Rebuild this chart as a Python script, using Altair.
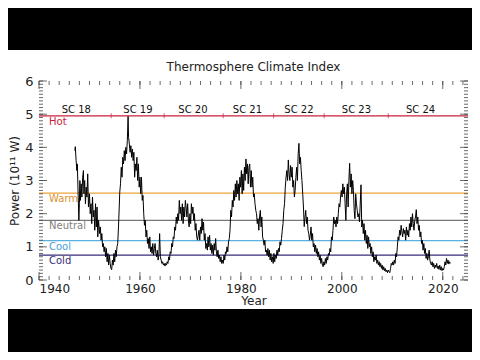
import altair as alt
import pandas as pd

# ---------------- data ----------------
chart_title = "Thermosphere Climate Index"
x_title = "Year"
y_title = "Power (10\u00b9\u00b9 W)"

level_names = ["Hot", "Warm", "Neutral", "Cool", "Cold"]
level_values = [4.95, 2.62, 1.80, 1.19, 0.75]
level_line_colors = ["#c8203c", "#eca33a", "#777777", "#5ab0e0", "#3a2d78"]
level_text_colors = ["#c8203c", "#d9922e", "#808080", "#4aa0d8", "#3a2d78"]

cycle_names = ["SC 18", "SC 19", "SC 20", "SC 21", "SC 22", "SC 23", "SC 24"]
cycle_label_years = [1947.4, 1959.6, 1970.5, 1981.3, 1991.5, 2002.9, 2015.6]
cycle_boundaries = [1954.3, 1964.8, 1976.5, 1986.5, 1996.5, 2009.2]

x_tick_labels = [1940, 1960, 1980, 2000, 2020]
y_tick_labels = [0, 1, 2, 3, 4, 5, 6]

sc18 = [(1947.1, 3.9), (1947.2, 4.02), (1947.35, 3.6), (1947.5, 3.3), (1947.6, 3.5), (1947.75, 2.6),
        (1947.9, 1.8), (1948.0, 2.3), (1948.1, 3.0), (1948.2, 2.4), (1948.35, 2.9), (1948.5, 2.5),
        (1948.65, 3.1), (1948.8, 3.3), (1948.9, 2.6), (1949.05, 3.0), (1949.2, 2.3), (1949.35, 2.8),
        (1949.5, 2.5), (1949.65, 3.2), (1949.8, 2.2), (1950.0, 2.6), (1950.15, 2.0), (1950.3, 2.3),
        (1950.45, 1.7), (1950.6, 2.5), (1950.75, 1.9), (1950.9, 2.1), (1951.05, 1.5), (1951.2, 2.3),
        (1951.35, 1.6), (1951.5, 2.2), (1951.65, 1.3), (1951.8, 1.8), (1952.0, 1.4), (1952.15, 1.6),
        (1952.3, 1.2), (1952.45, 1.4), (1952.6, 1.0), (1952.75, 1.1), (1952.9, 0.85), (1953.05, 1.0),
        (1953.2, 0.7), (1953.35, 0.95), (1953.5, 0.55), (1953.65, 0.8), (1953.8, 0.45), (1953.95, 0.75),
        (1954.1, 0.5), (1954.25, 0.35), (1954.4, 0.31), (1954.55, 0.6), (1954.7, 0.45), (1954.85, 0.8),
        (1955.0, 0.55), (1955.15, 0.9), (1955.3, 0.7), (1955.45, 1.0)]
sc19 = [(1955.6, 1.1), (1955.75, 1.6), (1955.9, 2.2), (1956.0, 2.65), (1956.15, 2.9), (1956.3, 3.4),
        (1956.45, 3.1), (1956.6, 3.7), (1956.75, 3.5), (1956.9, 3.9), (1957.05, 3.6), (1957.2, 4.0),
        (1957.35, 3.8), (1957.5, 4.2), (1957.65, 4.93), (1957.75, 4.3), (1957.9, 4.1), (1958.05, 3.85),
        (1958.2, 4.05), (1958.35, 3.7), (1958.5, 3.95), (1958.65, 3.6), (1958.8, 3.85), (1958.95, 3.1),
        (1959.1, 3.5), (1959.25, 3.3), (1959.4, 3.7), (1959.55, 3.0), (1959.7, 3.5), (1959.85, 2.8),
        (1960.0, 3.1), (1960.15, 2.6), (1960.3, 3.1), (1960.45, 2.4), (1960.6, 2.55), (1960.75, 2.0),
        (1960.9, 1.65), (1961.05, 1.8), (1961.2, 1.3), (1961.35, 1.5), (1961.5, 1.1), (1961.65, 1.25),
        (1961.8, 0.95), (1961.95, 1.3), (1962.1, 0.85), (1962.25, 1.0), (1962.4, 0.8), (1962.55, 1.1),
        (1962.7, 0.75), (1962.85, 0.95), (1963.0, 1.1), (1963.15, 0.8), (1963.3, 0.7), (1963.45, 0.9),
        (1963.6, 0.6), (1963.75, 0.75), (1963.9, 1.4), (1964.05, 0.7), (1964.2, 0.6), (1964.35, 0.5),
        (1964.5, 0.55), (1964.65, 0.45), (1964.8, 0.5), (1964.95, 0.42), (1965.1, 0.5), (1965.25, 0.45),
        (1965.4, 0.55), (1965.55, 0.5), (1965.7, 0.7), (1965.85, 0.6), (1966.0, 0.85), (1966.15, 0.8),
        (1966.3, 1.1), (1966.45, 1.0)]
sc20 = [(1966.6, 1.3), (1966.75, 1.25), (1966.9, 1.6), (1967.05, 1.5), (1967.2, 1.9), (1967.35, 1.7),
        (1967.5, 2.0), (1967.65, 1.8), (1967.8, 2.4), (1967.95, 2.0), (1968.1, 2.2), (1968.25, 1.8),
        (1968.4, 2.3), (1968.55, 1.7), (1968.7, 2.2), (1968.85, 1.9), (1969.0, 2.4), (1969.15, 2.2),
        (1969.3, 1.9), (1969.45, 2.3), (1969.6, 1.8), (1969.75, 1.6), (1969.9, 2.0), (1970.05, 1.7),
        (1970.2, 2.3), (1970.35, 2.0), (1970.5, 2.2), (1970.65, 1.8), (1970.8, 2.0), (1970.95, 1.5),
        (1971.1, 1.7), (1971.25, 1.3), (1971.4, 1.2), (1971.55, 1.35), (1971.7, 1.5), (1971.85, 1.2),
        (1972.0, 1.6), (1972.15, 1.4), (1972.3, 1.85), (1972.45, 1.5), (1972.6, 1.75), (1972.75, 1.2),
        (1972.9, 1.4), (1973.05, 0.95), (1973.2, 1.1), (1973.35, 0.9), (1973.5, 1.3), (1973.65, 1.0),
        (1973.8, 1.35), (1973.95, 0.9), (1974.1, 1.1), (1974.25, 0.8), (1974.4, 1.05), (1974.55, 0.75),
        (1974.7, 1.1), (1974.85, 0.9), (1975.0, 1.25), (1975.15, 0.85), (1975.3, 0.7), (1975.45, 0.9),
        (1975.6, 0.65), (1975.75, 0.75), (1975.9, 0.55), (1976.05, 0.7), (1976.2, 0.5), (1976.35, 0.6),
        (1976.5, 0.5), (1976.65, 0.75), (1976.8, 0.6), (1976.95, 0.85), (1977.1, 0.8), (1977.25, 1.0),
        (1977.4, 0.85), (1977.55, 1.15), (1977.7, 1.25)]
sc21 = [(1977.85, 1.5), (1978.0, 2.1), (1978.15, 1.9), (1978.3, 2.4), (1978.45, 2.2), (1978.6, 2.7),
        (1978.75, 2.4), (1978.9, 2.9), (1979.05, 2.5), (1979.2, 3.0), (1979.35, 2.6), (1979.5, 2.9),
        (1979.65, 2.4), (1979.8, 3.1), (1979.95, 2.8), (1980.1, 3.3), (1980.25, 2.6), (1980.4, 3.2),
        (1980.55, 2.7), (1980.7, 3.4), (1980.85, 3.0), (1981.0, 3.65), (1981.15, 3.2), (1981.3, 3.5),
        (1981.45, 2.9), (1981.6, 3.4), (1981.75, 3.5), (1981.9, 2.8), (1982.05, 3.3), (1982.2, 2.8),
        (1982.35, 3.1), (1982.5, 2.5), (1982.65, 2.6), (1982.8, 2.3), (1982.95, 2.1), (1983.1, 2.0),
        (1983.25, 1.7), (1983.4, 1.85), (1983.55, 1.5), (1983.7, 1.9), (1983.85, 2.1), (1984.0, 1.6),
        (1984.15, 1.9), (1984.3, 1.3), (1984.45, 1.2), (1984.6, 1.05), (1984.75, 1.2), (1984.9, 0.85),
        (1985.05, 0.9), (1985.2, 0.75), (1985.35, 0.95), (1985.5, 0.7), (1985.65, 0.9), (1985.8, 0.6),
        (1985.95, 0.8), (1986.1, 0.55), (1986.25, 0.7), (1986.4, 0.5), (1986.55, 0.8), (1986.7, 0.55),
        (1986.85, 0.75), (1987.0, 0.65), (1987.15, 0.9), (1987.3, 0.75), (1987.45, 0.95), (1987.6, 0.85),
        (1987.75, 1.15), (1987.9, 1.05)]
sc22 = [(1988.05, 1.25), (1988.2, 1.5), (1988.35, 1.7), (1988.5, 2.1), (1988.65, 2.3), (1988.8, 2.8),
        (1988.95, 3.1), (1989.1, 3.3), (1989.25, 3.0), (1989.4, 3.62), (1989.55, 3.2), (1989.7, 3.0),
        (1989.85, 3.45), (1990.0, 3.1), (1990.15, 3.4), (1990.3, 2.8), (1990.45, 3.0), (1990.6, 2.5),
        (1990.75, 2.7), (1990.9, 3.1), (1991.05, 3.4), (1991.2, 3.0), (1991.35, 3.8), (1991.5, 4.12),
        (1991.65, 3.5), (1991.8, 3.7), (1991.95, 3.3), (1992.1, 3.0), (1992.25, 2.6), (1992.4, 2.2),
        (1992.55, 1.61), (1992.7, 1.9), (1992.85, 2.1), (1993.0, 1.7), (1993.15, 1.9), (1993.3, 1.5),
        (1993.45, 1.4), (1993.6, 1.2), (1993.75, 1.35), (1993.9, 1.6), (1994.05, 1.2), (1994.2, 1.4),
        (1994.35, 1.0), (1994.5, 1.1), (1994.65, 0.85), (1994.8, 1.05), (1994.95, 0.8), (1995.1, 0.95),
        (1995.25, 0.7), (1995.4, 0.85), (1995.55, 0.6), (1995.7, 0.75), (1995.85, 0.5), (1996.0, 0.65),
        (1996.15, 0.45), (1996.3, 0.4), (1996.45, 0.55), (1996.6, 0.45), (1996.75, 0.65), (1996.9, 0.5),
        (1997.05, 0.7), (1997.2, 0.6), (1997.35, 0.8), (1997.5, 0.75), (1997.65, 0.95), (1997.8, 0.85)]
sc23 = [(1997.95, 1.3), (1998.1, 1.2), (1998.25, 1.5), (1998.4, 1.9), (1998.55, 1.7), (1998.7, 1.8),
        (1998.85, 1.6), (1999.0, 1.9), (1999.15, 1.7), (1999.3, 2.0), (1999.45, 2.3), (1999.6, 2.2),
        (1999.75, 2.5), (1999.9, 2.7), (2000.05, 2.5), (2000.2, 2.9), (2000.35, 2.6), (2000.5, 2.8),
        (2000.65, 2.3), (2000.8, 1.8), (2000.95, 2.6), (2001.1, 2.9), (2001.25, 2.2), (2001.4, 3.0),
        (2001.55, 3.52), (2001.7, 2.8), (2001.85, 3.2), (2002.0, 2.6), (2002.15, 3.0), (2002.3, 2.7),
        (2002.45, 2.1), (2002.6, 1.85), (2002.75, 2.6), (2002.9, 2.3), (2003.05, 2.1), (2003.2, 1.9),
        (2003.35, 2.0), (2003.5, 1.75), (2003.8, 2.87), (2003.95, 1.6), (2004.1, 1.8), (2004.25, 1.4),
        (2004.4, 1.7), (2004.55, 1.2), (2004.7, 1.5), (2004.85, 1.1), (2005.0, 1.35), (2005.15, 0.95),
        (2005.3, 1.3), (2005.45, 1.0), (2005.6, 1.1), (2005.75, 0.8), (2005.9, 1.0), (2006.05, 0.7),
        (2006.2, 0.85), (2006.35, 0.55), (2006.5, 0.7), (2006.65, 0.6), (2006.8, 0.75), (2006.95, 0.5),
        (2007.1, 0.6), (2007.25, 0.45), (2007.4, 0.55), (2007.55, 0.4), (2007.7, 0.5), (2007.85, 0.35),
        (2008.0, 0.45), (2008.15, 0.3), (2008.3, 0.4), (2008.45, 0.28), (2008.6, 0.35), (2008.75, 0.25),
        (2008.9, 0.3), (2009.05, 0.22), (2009.2, 0.3), (2009.35, 0.25), (2009.5, 0.22), (2009.65, 0.35)]
sc24 = [(2009.8, 0.5), (2009.95, 0.45), (2010.1, 0.55), (2010.25, 0.45), (2010.4, 0.6), (2010.55, 0.5),
        (2010.7, 0.8), (2010.85, 0.7), (2011.0, 1.0), (2011.15, 1.3), (2011.3, 1.2), (2011.45, 1.5),
        (2011.6, 1.35), (2011.75, 1.65), (2011.9, 1.45), (2012.05, 1.3), (2012.2, 1.55), (2012.35, 1.4),
        (2012.5, 1.5), (2012.65, 1.2), (2012.8, 1.6), (2012.95, 1.35), (2013.1, 1.5), (2013.25, 1.3),
        (2013.4, 1.7), (2013.55, 1.5), (2013.7, 1.9), (2013.85, 1.6), (2014.0, 2.0), (2014.15, 1.7),
        (2014.3, 1.5), (2014.45, 1.8), (2014.6, 1.9), (2014.75, 2.12), (2014.9, 1.7), (2015.05, 1.9),
        (2015.2, 1.5), (2015.35, 1.65), (2015.5, 1.3), (2015.65, 1.45), (2015.8, 1.1), (2015.95, 1.2),
        (2016.1, 0.9), (2016.25, 1.1), (2016.4, 0.8), (2016.55, 0.95), (2016.7, 0.65), (2016.85, 0.8),
        (2017.0, 0.6), (2017.15, 0.7), (2017.3, 0.9), (2017.45, 0.6), (2017.6, 0.5), (2017.75, 0.45),
        (2017.9, 0.55), (2018.05, 0.4), (2018.2, 0.5), (2018.35, 0.35), (2018.5, 0.45), (2018.65, 0.38),
        (2018.8, 0.5), (2018.95, 0.35), (2019.1, 0.42), (2019.25, 0.32), (2019.4, 0.45), (2019.55, 0.3),
        (2019.7, 0.4), (2019.85, 0.28), (2020.0, 0.35), (2020.15, 0.3), (2020.3, 0.4), (2020.45, 0.55),
        (2020.6, 0.45), (2020.75, 0.65), (2020.9, 0.5), (2021.05, 0.6), (2021.2, 0.48), (2021.35, 0.55),
        (2021.5, 0.5)]

# ---------------- frames ----------------
series = sc18 + sc19 + sc20 + sc21 + sc22 + sc23 + sc24
tci = pd.DataFrame(series, columns=["year", "power"])
levels = pd.DataFrame({"name": level_names, "value": level_values,
                       "line": level_line_colors, "text": level_text_colors})
cycles = pd.DataFrame({"name": cycle_names, "year": cycle_label_years})
bounds = pd.DataFrame({"year": cycle_boundaries})

x_minor = pd.DataFrame({"year": list(range(1940, 2026, 2))})
x_major = pd.DataFrame({"year": x_tick_labels})
y_minor = pd.DataFrame({"v": [i / 10 for i in range(0, 61)]})
y_major = pd.DataFrame({"v": y_tick_labels})

W, H = 429, 199
FONT = "DejaVu Sans"

xscale = alt.Scale(domain=[1940, 2025], nice=False, zero=False)
yscale = alt.Scale(domain=[0, 6], nice=False)

x_axis = alt.Axis(values=x_tick_labels, format="d", ticks=False, domain=False, grid=False,
                  labelFontSize=12, labelPadding=3, labelColor="#222", zindex=2,
                  labelOverlap=False,
                  title=x_title, titleFontSize=12, titleFontWeight="normal",
                  titlePadding=1, titleColor="#222", labelFont=FONT, titleFont=FONT)
y_axis = alt.Axis(values=y_tick_labels, ticks=False, domain=False, grid=False,
                  labelFontSize=13, labelPadding=6, labelColor="#222", zindex=2,
                  labelOverlap=False,
                  title=y_title, titleFontSize=12, titleFontWeight="normal",
                  titlePadding=3, titleColor="#222", labelFont=FONT, titleFont=FONT)


def X(field):
    return alt.X(field, scale=xscale, axis=x_axis)


def Y(field):
    return alt.Y(field, scale=yscale, axis=y_axis)


backdrop = alt.Chart(alt.Data(values=[{}])).mark_rect(color="white").encode(
    x=alt.value(-39), x2=alt.value(441), y=alt.value(-31), y2=alt.value(228)
)
title_mark = alt.Chart(alt.Data(values=[{"t": chart_title}])).mark_text(
    fontSize=12, font=FONT, color="#222", baseline="alphabetic", align="center"
).encode(x=alt.value(W / 2), y=alt.value(-10), text="t:N")

level_rules = alt.Chart(levels).mark_rule(strokeWidth=1.3).encode(
    y=Y("value:Q"),
    color=alt.Color("line:N", scale=None),
)
level_labels = alt.Chart(levels).mark_text(align="left", baseline="top", dy=1, fontSize=10, font=FONT).encode(
    x=alt.value(10),
    y=Y("value:Q"),
    color=alt.Color("text:N", scale=None),
    text="name:N",
)

cycle_text = alt.Chart(cycles).mark_text(baseline="alphabetic", dy=-3, fontSize=10, font=FONT, color="#111").encode(
    x=X("year:Q"),
    y=alt.datum(level_values[0], scale=yscale, axis=y_axis),
    text="name:N",
)
bound_marks = alt.Chart(bounds).mark_tick(orient="vertical", size=5, thickness=1, color="#c8203c").encode(
    x=X("year:Q"),
    y=alt.datum(level_values[0], scale=yscale, axis=y_axis),
)

tick_color = "#444"
xb_min = alt.Chart(x_minor).mark_rule(color=tick_color, strokeWidth=0.8).encode(
    x=X("year:Q"), y=alt.value(H), y2=alt.value(H - 4))
xt_min = alt.Chart(x_minor).mark_rule(color=tick_color, strokeWidth=0.8).encode(
    x=X("year:Q"), y=alt.value(0), y2=alt.value(4))
xb_maj = alt.Chart(x_major).mark_rule(color=tick_color, strokeWidth=0.8).encode(
    x=X("year:Q"), y=alt.value(H), y2=alt.value(H - 8))
xt_maj = alt.Chart(x_major).mark_rule(color=tick_color, strokeWidth=0.8).encode(
    x=X("year:Q"), y=alt.value(0), y2=alt.value(8))
yl_min = alt.Chart(y_minor).mark_rule(color=tick_color, strokeWidth=0.8).encode(
    y=Y("v:Q"), x=alt.value(0), x2=alt.value(4))
yr_min = alt.Chart(y_minor).mark_rule(color=tick_color, strokeWidth=0.8).encode(
    y=Y("v:Q"), x=alt.value(W), x2=alt.value(W - 4))
yl_maj = alt.Chart(y_major).mark_rule(color=tick_color, strokeWidth=0.8).encode(
    y=Y("v:Q"), x=alt.value(0), x2=alt.value(8))
yr_maj = alt.Chart(y_major).mark_rule(color=tick_color, strokeWidth=0.8).encode(
    y=Y("v:Q"), x=alt.value(W), x2=alt.value(W - 8))

line = alt.Chart(tci).mark_line(color="black", strokeWidth=1).encode(
    x=X("year:Q"),
    y=Y("power:Q"),
)

chart = alt.layer(
    backdrop, title_mark, level_rules, level_labels, cycle_text, bound_marks,
    xb_min, xt_min, xb_maj, xt_maj, yl_min, yr_min, yl_maj, yr_maj,
    line,
).properties(
    width=W, height=H,
    autosize=alt.AutoSizeParams(type="none"),
    padding={"left": 31, "top": 73, "right": 4, "bottom": 72},
    background="black",
).configure_view(
    stroke="#333", strokeWidth=1
)

chart.save("out.html", embed_options={"renderer": "svg", "actions": False})
